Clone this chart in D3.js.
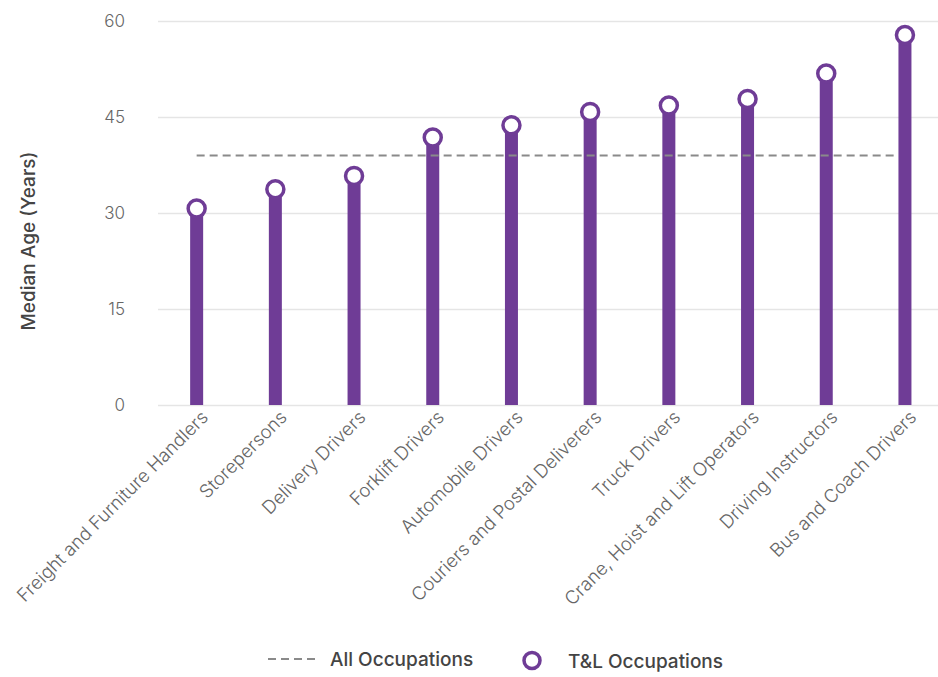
<!DOCTYPE html>
<html><head><meta charset="utf-8">
<script src="https://cdn.jsdelivr.net/npm/d3@7"></script>
<style>body{margin:0;background:#fff}svg{display:block}</style>
</head><body><svg id="c" width="938" height="677"></svg>
<script>
const categories = ["Freight and Furniture Handlers","Storepersons","Delivery Drivers","Forklift Drivers","Automobile Drivers","Couriers and Postal Deliverers","Truck Drivers","Crane, Hoist and Lift Operators","Driving Instructors","Bus and Coach Drivers"];
const tlValues = [30.7, 33.7, 35.8, 41.8, 43.7, 45.8, 46.8, 47.8, 51.8, 57.8];
const allOccupations = 39;
const yTicks = [0, 15, 30, 45, 60];
const seriesNames = ["All Occupations", "T&L Occupations"];

const purple = "#6f3c96";
const svg = d3.select("#c");
const font = "Inter, 'Noto Sans', sans-serif";

const x = d3.scaleBand().domain(categories).range([157.3, 944.3]).paddingInner(0).paddingOuter(0);
const y = d3.scaleLinear().domain([0, 60]).range([405, 21]);
const cx = d => x(d) + x.bandwidth() / 2;

// grid
const yAxis = d3.axisLeft(y).tickValues(yTicks).tickSize(-(938 - 158)).tickPadding(33);
const gy = svg.append("g").attr("transform", "translate(158,0)").call(yAxis);
gy.select(".domain").remove();
gy.selectAll(".tick line").attr("stroke", "#e5e5e5").attr("stroke-width", 1.5);
gy.selectAll(".tick text").attr("font-family", font).attr("font-size", 17).attr("font-weight", 300).attr("fill", "#666");

// x axis labels
const xAxis = d3.axisBottom(x).tickSize(0).tickPadding(0);
const gx = svg.append("g").attr("transform", "translate(0,405)").call(xAxis);
gx.select(".domain").remove();
gx.selectAll(".tick text")
  .attr("font-family", font).attr("font-size", 18.5).attr("font-weight", 300).attr("fill", "#666")
  .attr("text-anchor", "end").attr("dy", "0.35em")
  .attr("transform", "translate(8,9) rotate(-45)");

// bars (lollipop stems)
const bw = 13;
svg.append("g").selectAll("rect").data(categories).join("rect")
  .attr("x", d => cx(d) - bw / 2).attr("width", bw)
  .attr("y", (d, i) => y(tlValues[i])).attr("height", (d, i) => y(0) - y(tlValues[i]))
  .attr("fill", purple);

// all occupations dashed line
svg.append("line")
  .attr("x1", cx(categories[0])).attr("x2", cx(categories[categories.length - 1]) - bw / 2)
  .attr("y1", y(allOccupations)).attr("y2", y(allOccupations))
  .attr("stroke", "#8a8a8a").attr("stroke-width", 2).attr("stroke-dasharray", "8,5");

// markers
svg.append("g").selectAll("circle").data(categories).join("circle")
  .attr("cx", d => cx(d)).attr("cy", (d, i) => y(tlValues[i])).attr("r", 8.5)
  .attr("fill", "#fff").attr("stroke", purple).attr("stroke-width", 3.5);

// y title
svg.append("text").attr("transform", "translate(35,241) rotate(-90)")
  .attr("text-anchor", "middle").attr("font-family", font).attr("font-size", 19).attr("font-weight", 500)
  .attr("fill", "#444").text("Median Age (Years)");

// legend
const lg = svg.append("g");
lg.append("line").attr("x1", 268).attr("x2", 316).attr("y1", 659).attr("y2", 659)
  .attr("stroke", "#8a8a8a").attr("stroke-width", 2).attr("stroke-dasharray", "8,5");
lg.append("text").attr("x", 330).attr("y", 666).attr("font-family", font).attr("font-size", 19).attr("font-weight", 500)
  .attr("fill", "#444").text(seriesNames[0]);
lg.append("circle").attr("cx", 532).attr("cy", 660.5).attr("r", 8).attr("fill", "#fff")
  .attr("stroke", purple).attr("stroke-width", 3.5);
lg.append("text").attr("x", 568).attr("y", 668).attr("font-family", font).attr("font-size", 19).attr("font-weight", 500)
  .attr("fill", "#444").text(seriesNames[1]);
</script></body></html>
